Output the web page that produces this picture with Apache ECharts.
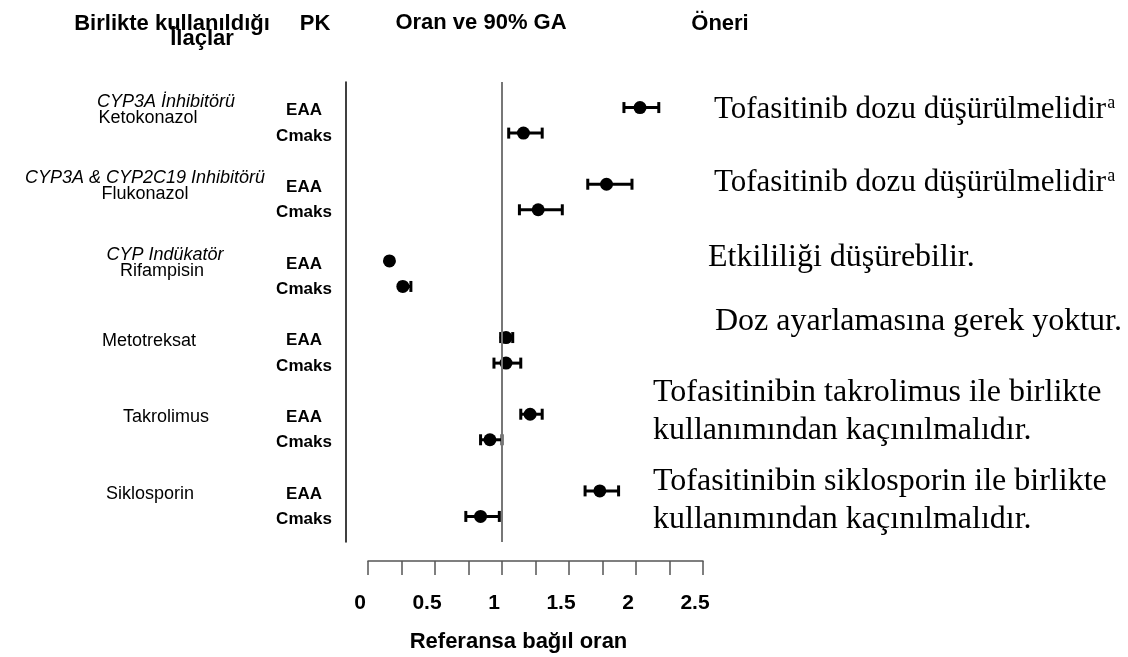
<!DOCTYPE html>
<html>
<head>
<meta charset="utf-8">
<script src="https://cdn.jsdelivr.net/npm/echarts@6.0.0/dist/echarts.min.js"></script>
<style>
  html, body { margin: 0; padding: 0; background: #fff; }
  #chart { width: 1128px; height: 657px; }
</style>
</head>
<body>
<div id="chart"></div>
<script>
// ---- data ----
const drugs = ['Ketokonazol', 'Flukonazol', 'Rifampisin', 'Metotreksat', 'Takrolimus', 'Siklosporin']
const drugClasses = ['CYP3A İnhibitörü', 'CYP3A & CYP2C19 Inhibitörü', 'CYP Indükatör', '', '', '']
const pkParams = ['EAA', 'Cmaks']

const eaaRatio = [2.03, 1.78, 0.16, 1.03, 1.21, 1.73]
const eaaLow = [1.91, 1.64, 0.15, 0.99, 1.14, 1.62]
const eaaHigh = [2.17, 1.97, 0.17, 1.08, 1.30, 1.87]
const cmaksRatio = [1.16, 1.27, 0.26, 1.03, 0.91, 0.84]
const cmaksLow = [1.05, 1.13, 0.24, 0.94, 0.84, 0.73]
const cmaksHigh = [1.30, 1.45, 0.32, 1.14, 1.00, 0.98]

const recommendations = [
  ['Tofasitinib dozu düşürülmelidir'],
  ['Tofasitinib dozu düşürülmelidir'],
  ['Etkililiği düşürebilir.'],
  ['Doz ayarlamasına gerek yoktur.'],
  ['Tofasitinibin takrolimus ile birlikte', 'kullanımından kaçınılmalıdır.'],
  ['Tofasitinibin siklosporin ile birlikte', 'kullanımından kaçınılmalıdır.']
]
const recNotes = ['a', 'a', '', '', '', '']

const xTickLabels = [0, 0.5, 1, 1.5, 2, 2.5]
const refValue = 1

// ---- layout ----
const SANS = '"Liberation Sans", Arial, sans-serif'
const SERIF = '"Liberation Serif", "Times New Roman", serif'
const HEAD_FONT = 'bold 22px ' + SANS
const CLASS_FONT = 'italic 18px ' + SANS
const NAME_FONT = '18px ' + SANS
const PK_FONT = 'bold 17px ' + SANS
const SUP_FONT = '18px ' + SERIF

const classX = [166, 145, 165]
const nameX = [148, 145, 162, 149, 166, 150]
const recX = [714, 714, 708, 715, 653, 653]
const recY = [110, 183, 258, 322, 393, 482]
const recSize = [31, 31, 32, 32, 32, 32]
const recLineGap = 38

// EAA row at 3i, Cmaks row at 3i + 1
const rowOf = (i, k) => i * 3 + k

const points = []
const bars = []
drugs.forEach((d, i) => {
  points.push([eaaRatio[i], rowOf(i, 0)], [cmaksRatio[i], rowOf(i, 1)])
  bars.push([eaaLow[i], eaaHigh[i], rowOf(i, 0)], [cmaksLow[i], cmaksHigh[i], rowOf(i, 1)])
})

const chart = echarts.init(document.getElementById('chart'))

const option = {
  animation: false,
  grid: { left: 368, right: 425, top: 82, bottom: 115, outerBoundsMode: 'none' },
  xAxis: {
    type: 'value',
    min: 0,
    max: 2.5,
    interval: 0.25,
    offset: 19,
    axisLine: { show: true, onZero: false, lineStyle: { color: '#555', width: 1.5 } },
    axisTick: { show: true, length: 14, lineStyle: { color: '#555', width: 1.5 } },
    axisLabel: {
      margin: 32,
      fontFamily: SANS,
      fontSize: 21,
      fontWeight: 'bold',
      color: '#000',
      padding: [0, 16, 0, 0],
      formatter: v => xTickLabels.some(t => Math.abs(t - v) < 1e-6) ? String(v) : ''
    },
    splitLine: { show: false },
    name: 'Referansa bağıl oran',
    nameLocation: 'middle',
    nameGap: 70,
    nameTextStyle: {
      fontFamily: SANS,
      fontSize: 22,
      fontWeight: 'bold',
      color: '#000',
      padding: [0, 34, 0, 0]
    }
  },
  yAxis: {
    type: 'value',
    inverse: true,
    min: -1,
    max: 17,
    offset: 22,
    axisLine: { show: true, onZero: false, lineStyle: { color: '#000', width: 1.5 } },
    axisTick: { show: false },
    axisLabel: { show: false },
    splitLine: { show: false }
  },
  series: [
    {
      name: 'GA',
      type: 'custom',
      data: bars,
      z: 2,
      renderItem: (params, api) => {
        const y = api.value(2)
        const p1 = api.coord([api.value(0), y])
        const p2 = api.coord([api.value(1), y])
        const h = 5.5
        const style = { stroke: '#000', lineWidth: 3 }
        return {
          type: 'group',
          children: [
            { type: 'line', shape: { x1: p1[0], y1: p1[1], x2: p2[0], y2: p2[1] }, style },
            { type: 'line', shape: { x1: p1[0], y1: p1[1] - h, x2: p1[0], y2: p1[1] + h }, style },
            { type: 'line', shape: { x1: p2[0], y1: p2[1] - h, x2: p2[0], y2: p2[1] + h }, style }
          ]
        }
      }
    },
    {
      name: 'Oran',
      type: 'scatter',
      data: points,
      symbolSize: 13,
      itemStyle: { color: '#000', opacity: 1 },
      z: 3,
      markLine: {
        silent: true,
        symbol: 'none',
        label: { show: false },
        lineStyle: { color: '#777', width: 2, type: 'solid' },
        data: [{ xAxis: refValue }]
      }
    }
  ]
}

chart.setOption(option)

// ---- text columns ----
const ctx = document.createElement('canvas').getContext('2d')
const measure = (text, font) => {
  ctx.font = font
  return ctx.measureText(text).width
}
const yPix = v => chart.convertToPixel({ yAxisIndex: 0 }, v)

const graphics = []
const addText = (text, x, y, font, align) => {
  graphics.push({
    type: 'text',
    x: x,
    y: y,
    silent: true,
    style: { text: text, font: font, fill: '#000', textAlign: align || 'left', textVerticalAlign: 'middle' }
  })
}

addText('Birlikte kullanıldığı', 172, 24, HEAD_FONT, 'center')
addText('İlaçlar', 202, 39, HEAD_FONT, 'center')
addText('PK', 315, 24, HEAD_FONT, 'center')
addText('Oran ve 90% GA', 481, 23, HEAD_FONT, 'center')
addText('Öneri', 720, 24, HEAD_FONT, 'center')

drugs.forEach((d, i) => {
  const y0 = yPix(rowOf(i, 0))
  if (drugClasses[i]) {
    addText(drugClasses[i], classX[i], y0 - 6, CLASS_FONT, 'center')
    addText(d, nameX[i], y0 + 10, NAME_FONT, 'center')
  } else {
    addText(d, nameX[i], y0 + 3, NAME_FONT, 'center')
  }
  pkParams.forEach((p, k) => {
    addText(p, 304, yPix(rowOf(i, k)) + 3, PK_FONT, 'center')
  })
})

recommendations.forEach((lines, i) => {
  const font = recSize[i] + 'px ' + SERIF
  lines.forEach((line, j) => {
    const y = recY[i] + j * recLineGap
    addText(line, recX[i], y, font, 'left')
    if (recNotes[i] && j === lines.length - 1) {
      addText(recNotes[i], recX[i] + measure(line, font) + 1, y - 7, SUP_FONT, 'left')
    }
  })
})

chart.setOption({ graphic: graphics })

window.addEventListener('resize', () => chart.resize())
</script>
</body>
</html>
